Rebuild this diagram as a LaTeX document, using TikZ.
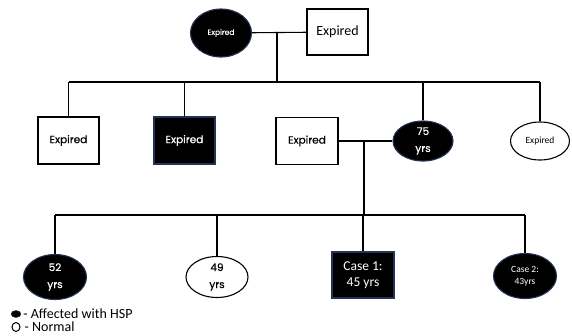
\documentclass[tikz,border=0pt]{standalone}
\usepackage{fontspec}
\setmainfont{Carlito}
\newfontfamily\gothic[FakeBold=0.4]{Poppins}
\usetikzlibrary{shapes.geometric}
\definecolor{bordbleu}{RGB}{35,50,85}

\tikzset{
  homme/.style={draw, line width=1.1pt, rectangle, inner sep=0pt, align=center,
    minimum width=61pt, minimum height=47pt},
  femme/.style={draw, line width=1.1pt, ellipse, inner sep=0pt, align=center,
    minimum width=61pt, minimum height=41pt},
  atteint/.style={fill=black, draw=bordbleu, text=white},
  lien/.style={line width=1.1pt},
  goth/.style={font=\gothic\fontsize{10.5}{17}\selectfont}
}

\begin{document}
\begin{tikzpicture}[x=1pt,y=-1pt]
  \useasboundingbox (0,0) rectangle (572,335);

  % Grands-parents
  \node[femme, atteint, minimum height=48pt, font=\gothic\fontsize{7.5}{8}\selectfont]
    (gp1) at (221,33) {Expired};
  \node[homme, minimum height=46pt, font=\fontsize{14}{16}\selectfont]
    (gp2) at (337.5,32) {Expired};

  % Enfants
  \node[homme, goth] (c1) at (68.5,140.5) {Expired};
  \node[homme, atteint, goth] (c2) at (184.5,140.5) {Expired};
  \node[homme, goth, minimum width=62pt] (sp) at (307,141) {Expired};
  \node[femme, atteint, goth, minimum width=60pt, minimum height=40pt]
    (c3) at (423,141) {75\\yrs};
  \node[femme, minimum width=59pt, minimum height=38pt, font=\fontsize{9.5}{11}\selectfont]
    (c4) at (540,141) {Expired};

  % Petits-enfants
  \node[femme, atteint, goth, minimum width=63pt, minimum height=45pt]
    (g1) at (55,277) {52\\yrs};
  \node[femme, goth, minimum width=62pt, minimum height=41pt]
    (g2) at (217,277) {49\\yrs};
  \node[homme, atteint, minimum width=62pt, minimum height=46pt,
    font=\fontsize{13.5}{16}\selectfont] (g3) at (363,275) {Case 1:\\45 yrs};
  \node[femme, atteint, minimum width=63pt, minimum height=45pt,
    font=\fontsize{9.5}{12}\selectfont] (g4) at (525,276) {Case 2:\\43yrs};

  % Couples et lignes de fratrie
  \coordinate (m1) at (277,33);
  \coordinate (b1) at (277,82);
  \coordinate (m2) at (364,141);
  \coordinate (b2) at (364,215);
  \draw[lien] (gp1) -- (gp2);
  \draw[lien] (m1) -- (b1);
  \draw[lien] (c1.north |- b1) -- (c4.north |- b1);
  \foreach \n in {c1,c2,c3,c4}
    \draw[lien] (\n.north) -- (\n.north |- b1);

  \draw[lien] (sp) -- (c3);
  \draw[lien] (m2) -- (b2);
  \draw[lien] (g1.north |- b2) -- (g4.north |- b2);
  \foreach \n in {g1,g2,g3,g4}
    \draw[lien] (\n.north) -- (\n.north |- b2);

  % Legende
  \node[ellipse, fill=black, draw=bordbleu, minimum width=10pt, minimum height=7pt,
    inner sep=0pt] (legA) at (16,314) {};
  \node[anchor=west, inner sep=2pt, font=\fontsize{14}{14}\selectfont] (txtA)
    at (legA.east) {- Affected with HSP};
  \node[ellipse, draw, line width=1pt, minimum width=8pt, minimum height=9pt,
    inner sep=0pt] (legN) at (16,327) {};
  \node[anchor=west, inner sep=2pt, xshift=2pt, font=\fontsize{14}{14}\selectfont] (txtN)
    at (legN.east) {- Normal};
\end{tikzpicture}
\end{document}
